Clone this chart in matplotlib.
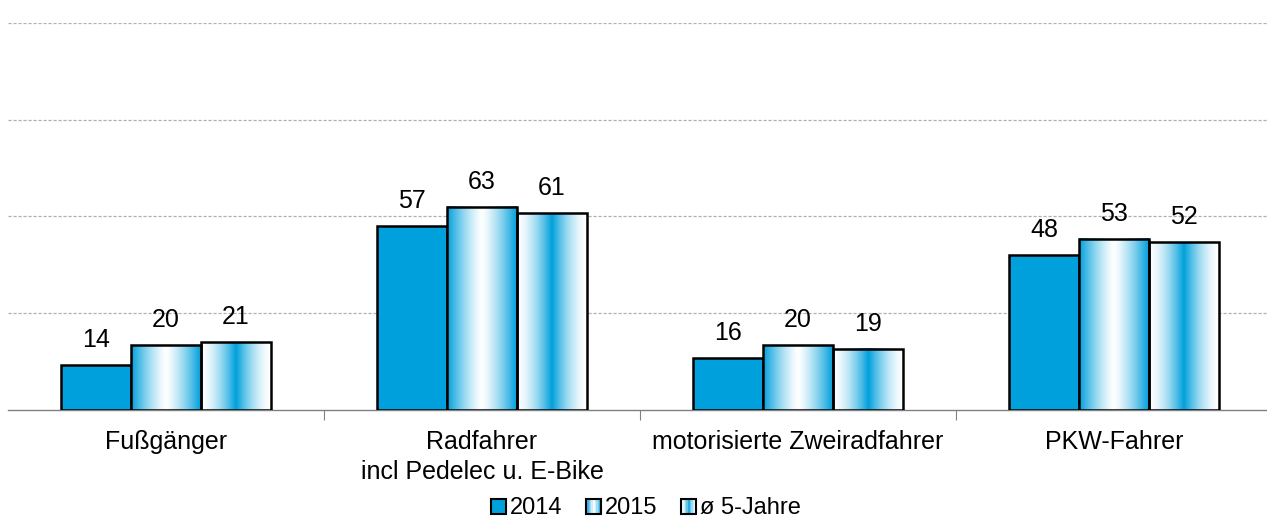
import numpy as np
import matplotlib
matplotlib.use("Agg")
import matplotlib.pyplot as plt
from matplotlib.patches import Rectangle
from matplotlib.legend_handler import HandlerBase
from matplotlib.colors import to_rgb

plt.rcParams['font.family'] = ['Liberation Sans', 'DejaVu Sans']

categories = ["Fußgänger", "Radfahrer\nincl Pedelec u. E-Bike", "motorisierte Zweiradfahrer", "PKW-Fahrer"]
series_names = ["2014", "2015", "ø 5-Jahre"]
v2014 = [14, 57, 16, 48]
v2015 = [20, 63, 20, 53]
v5j = [21, 61, 19, 52]
series = [v2014, v2015, v5j]

BLUE = np.array(to_rgb("#00A0DC"))
WHITE = np.array([1.0, 1.0, 1.0])

def weights(kind, n=200):
    t = np.linspace(0, 1, n)
    if kind == 0:
        return np.ones(n)
    if kind == 1:
        return np.abs(2 * t - 1) ** 1.3
    return np.clip(1 - np.abs(2 * t - 1), 0, 1) ** 1.6

def grad_img(kind, n=200):
    w = weights(kind, n)[:, None]
    row = WHITE * (1 - w) + BLUE * w
    return row[None, :, :]

fig = plt.figure(figsize=(12.67, 5.2), dpi=100)
ax = fig.add_axes([8 / 1267, 110 / 520, 1264 / 1267, (410 - 22.7) / 520])
ax.set_xlim(-0.5, 3.5)
ax.set_ylim(0, 120)

ax.set_yticks([30, 60, 90, 120])
ax.yaxis.grid(True, color="#B0B0B0", linestyle=(0, (2.5, 1.5)), linewidth=0.9)
ax.set_axisbelow(True)
ax.tick_params(axis='y', left=False, labelleft=False)
for s in ["left", "right", "top"]:
    ax.spines[s].set_visible(False)
ax.spines["bottom"].set_color("#808080")
ax.spines["bottom"].set_linewidth(1.0)

ax.set_xticks([0.5, 1.5, 2.5], minor=False)
ax.tick_params(axis='x', which='major', length=7, color="#808080", labelbottom=False, direction='out')

bw = 70 / 316
x = np.arange(len(categories))
for k, vals in enumerate(series):
    pos = x + (k - 1) * bw
    for xi, v in zip(pos, vals):
        x0, x1 = xi - bw / 2, xi + bw / 2
        if k == 0:
            ax.bar(xi, v, width=bw, color=BLUE, edgecolor="black", linewidth=1.8, zorder=3)
        else:
            ax.imshow(grad_img(k), extent=(x0, x1, 0, v), aspect='auto', zorder=3, interpolation='bilinear')
            ax.bar(xi, v, width=bw, facecolor="none", edgecolor="black", linewidth=1.8, zorder=4)
        ax.annotate(str(v), (xi, v), xytext=(0, 13), textcoords="offset points",
                    ha="center", va="baseline", fontsize=18, color="black")
ax.set_xlim(-0.5, 3.5)
ax.set_ylim(0, 120)

for xi, c in zip(x, categories):
    ax.text(xi, -6.3, c, ha="center", va="top", fontsize=18, linespacing=1.3,
            transform=ax.transData)

class GradHandler(HandlerBase):
    def __init__(self, kind):
        super().__init__()
        self.kind = kind
    def create_artists(self, legend, orig_handle, xdescent, ydescent, width, height, fontsize, trans):
        size = min(width, height) * 1.0
        x0 = -xdescent + width - size
        y0 = -ydescent + (height - size) / 2 - 0.5
        arts = []
        n = 12
        w = weights(self.kind, n)
        for i in range(n):
            col = WHITE * (1 - w[i]) + BLUE * w[i]
            arts.append(Rectangle((x0 + i * size / n, y0), size / n + 0.2, size, facecolor=col,
                                  edgecolor='none', transform=trans))
        arts.append(Rectangle((x0, y0), size, size, facecolor='none', edgecolor='black',
                              linewidth=1.5, transform=trans))
        return arts

handles = [Rectangle((0, 0), 1, 1) for _ in range(3)]
hmap = {h: GradHandler(k) for k, h in enumerate(handles)}
fig.legend(handles, series_names, handler_map=hmap, loc="center", bbox_to_anchor=(646 / 1267, 1 - 508 / 520),
           ncol=3, frameon=False, fontsize=17, handlelength=0.65, handleheight=0.65, handletextpad=0.15,
           columnspacing=1.0, borderpad=0)

fig.savefig("out.png", dpi=100)
